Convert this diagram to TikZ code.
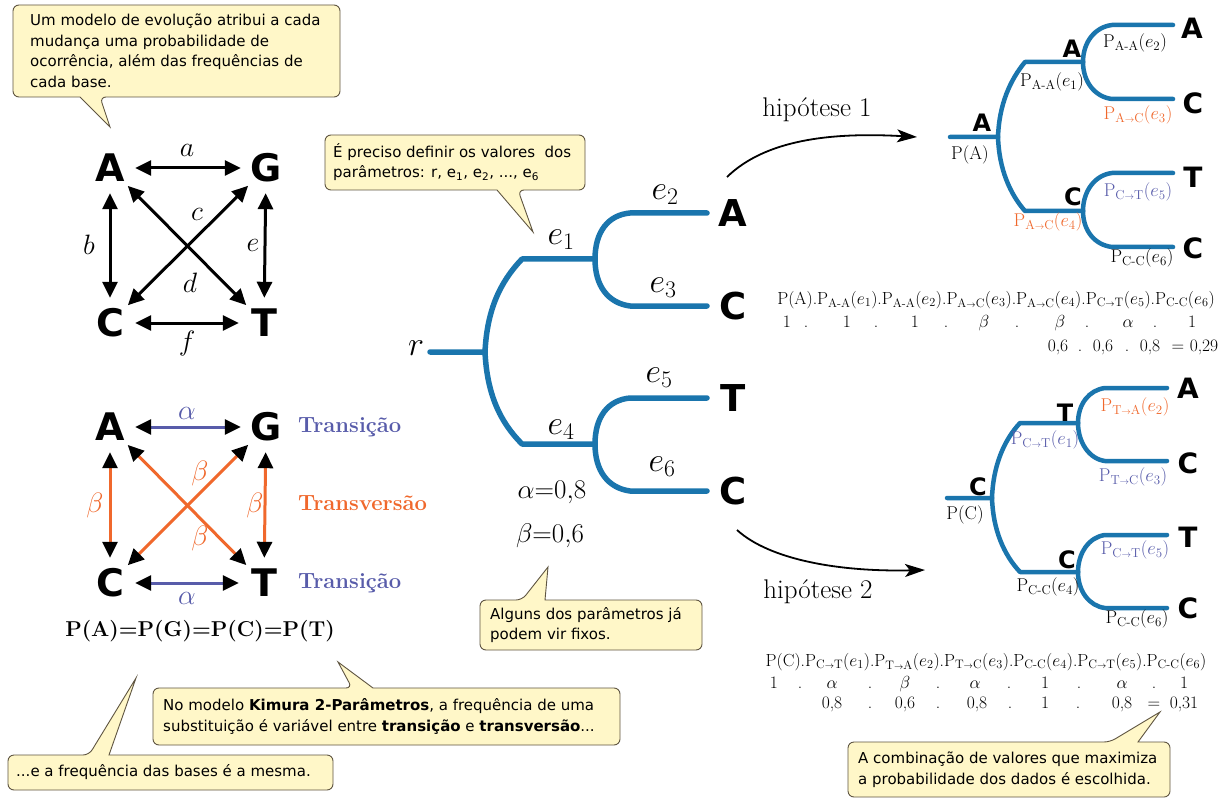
\RequirePackage{fix-cm}
\documentclass[tikz,border=0pt]{standalone}
\usepackage{amsmath}
\usepackage{fontspec}
\usetikzlibrary{arrows.meta}
\newfontfamily\sansf{DejaVu Sans}
\definecolor{treeblue}{RGB}{26,117,173}
\definecolor{orng}{RGB}{240,104,44}
\definecolor{purp}{RGB}{88,92,170}
\definecolor{bubfill}{RGB}{255,247,200}
\definecolor{bubline}{RGB}{95,85,65}
\newcommand{\PPd}[3]{\mathrm{P}_{\mathrm{#1}\text{-}\mathrm{#2}}(e_{#3})}
\newcommand{\PPa}[3]{\mathrm{P}_{\mathrm{#1}{\scriptscriptstyle\rightarrow}\mathrm{#2}}(e_{#3})}
\begin{document}
\begin{tikzpicture}[x=1pt,y=-1pt,
  bub/.style={draw=bubline, fill=bubfill, line width=0.9pt},
  btxt/.style={font=\sansf\fontsize{15}{20.5}\selectfont, align=left, anchor=west, inner sep=0pt},
  gbase/.style={font=\sansf\bfseries\fontsize{38}{40}\selectfont, circle, minimum size=50pt, inner sep=0pt},
  garr/.style={line width=3pt, arrows={Triangle[length=16pt,width=15pt,color=black]-Triangle[length=16pt,width=15pt,color=black]}},
  glab/.style={font=\fontsize{28}{30}\selectfont, inner sep=0pt},
  tree/.style={draw=treeblue, line width=5.5pt, line cap=round, line join=round},
  stree/.style={tree, line width=4.5pt},
  leafM/.style={font=\sansf\bfseries\fontsize{37}{40}\selectfont, inner sep=0pt},
  leafS/.style={font=\sansf\bfseries\fontsize{28}{30}\selectfont, inner sep=0pt},
  intS/.style={font=\sansf\bfseries\fontsize{24}{26}\selectfont, inner sep=0pt},
  plab/.style={font=\fontsize{18.5}{21}\selectfont, inner sep=0pt},
  fml/.style={font=\fontsize{17.5}{21}\selectfont, inner sep=0pt},
  tok/.style={fml, anchor=base},
  elab/.style={font=\fontsize{34}{38}\selectfont, inner sep=0pt},
  hyp/.style={font=\fontsize{27}{30}\selectfont, inner sep=0pt},
  trn/.style={font=\bfseries\fontsize{22}{24}\selectfont, anchor=west, inner sep=0pt},
  harr/.style={line width=1.8pt, -{Stealth[length=20pt,width=13pt,inset=5pt]}}
]
\useasboundingbox (0,0) rectangle (1222,799);
\fill[white] (0,0) rectangle (1222,799);

% ---------- top-left callout
\draw[bub] [rounded corners=6pt] (13,5) -- (340,5) -- (340,97) -- (100,97) [sharp corners] -- (110,127) -- (80,97) [rounded corners=6pt] -- (13,97) -- cycle;
\node[btxt] (t1) at (30,51) {Um modelo de evolução atribui a cada\\mudança uma probabilidade de\\ocorrência, além das frequências de\\cada base.};

% ---------- graph 1
\node[gbase] (A1) at (110,168) {A};
\node[gbase] (G1) at (266,168) {G};
\node[gbase] (C1) at (110,323) {C};
\node[gbase] (T1) at (264,323) {T};
\draw[garr] (A1) -- (G1);
\draw[garr] (A1) -- (C1);
\draw[garr] (G1) -- (T1);
\draw[garr] (C1) -- (T1);
\draw[garr] (A1) -- (T1);
\draw[garr] (G1) -- (C1);
\node[glab] (la) at (187,150) {$a$};
\node[glab] (lb) at (89,245) {$b$};
\node[glab] (lc) at (197,214) {$c$};
\node[glab] (ld) at (190,283) {$d$};
\node[glab] (le) at (253,245) {$e$};
\node[glab] (lf) at (187,343) {$f$};

% ---------- graph 2
\node[gbase] (A2) at (110,427) {A};
\node[gbase] (G2) at (266,427) {G};
\node[gbase] (C2) at (110,583) {C};
\node[gbase] (T2) at (264,583) {T};
\draw[garr, purp] (A2) -- (G2);
\draw[garr, purp] (C2) -- (T2);
\draw[garr, orng] (A2) -- (C2);
\draw[garr, orng] (G2) -- (T2);
\draw[garr, orng] (A2) -- (T2);
\draw[garr, orng] (G2) -- (C2);
\node[glab, purp] (al1) at (187,413) {$\alpha$};
\node[glab, purp] (al2) at (187,598) {$\alpha$};
\node[glab, orng] (be1) at (95,505) {$\beta$};
\node[glab, orng] (be2) at (255,505) {$\beta$};
\node[glab, orng] (be3) at (200,473) {$\beta$};
\node[glab, orng] (be4) at (200,538) {$\beta$};
\node[trn, purp] (tr1) at (298,427) {Transição};
\node[trn, orng] (tv1) at (298,503) {Transversão};
\node[trn, purp] (tr2) at (298,583) {Transição};
\node[font=\bfseries\fontsize{21.5}{24}\selectfont, inner sep=0pt] (eq) at (200,631) {P(A)=P(G)=P(C)=P(T)};

% ---------- middle callout
\draw[bub] [rounded corners=6pt] (325,135) -- (585,135) -- (585,190) -- (518,190) [sharp corners] -- (533,232) -- (497,190) [rounded corners=6pt] -- (325,190) -- cycle;
\node[btxt] (t2) at (333,162) {É preciso definir os valores~~dos\\parâmetros: r, e\textsubscript{1}, e\textsubscript{2}, ..., e\textsubscript{6}};

% ---------- middle tree
\coordinate (r0) at (430,352);
\coordinate (rj) at (485,352);
\coordinate (u1) at (522,259);
\coordinate (n1) at (595,259);
\coordinate (l1) at (522,444);
\coordinate (n2) at (595,444);
\draw[tree] (r0) -- (rj) .. controls (487,310) and (500,282) .. (u1) -- (n1);
\draw[tree] (rj) .. controls (487,394) and (500,422) .. (l1) -- (n2);
\draw[tree] (n1) .. controls (595,232) and (608,215) .. (630,213) -- (707,213);
\draw[tree] (n1) .. controls (595,286) and (608,303) .. (630,306) -- (707,306);
\draw[tree] (n2) .. controls (595,417) and (608,400) .. (630,398) -- (707,398);
\draw[tree] (n2) .. controls (595,471) and (608,488) .. (630,491) -- (707,491);
\node[leafM] (mA) at (733,213) {A};
\node[leafM] (mC1) at (733,306) {C};
\node[leafM] (mT) at (733,398) {T};
\node[leafM] (mC2) at (733,491) {C};
\node[elab] (mr) at (416,348) {$r$};
\node[elab] (me1) at (561,240) {$e_1$};
\node[elab] (me2) at (665,195) {$e_2$};
\node[elab] (me3) at (663,288) {$e_3$};
\node[elab] (me4) at (561,430) {$e_4$};
\node[elab] (me5) at (659,378) {$e_5$};
\node[elab] (me6) at (662,467) {$e_6$};
\node[font=\fontsize{27}{30}\selectfont, inner sep=0pt] (va) at (552,492) {$\alpha{=}0{,}8$};
\node[font=\fontsize{27}{30}\selectfont, inner sep=0pt] (vb) at (550,536) {$\beta{=}0{,}6$};

% ---------- "Alguns" callout
\draw[bub] [rounded corners=6pt] (480,650) -- (480,600) -- (522,600) [sharp corners] -- (548,567) -- (545,600) [rounded corners=6pt] -- (702,600) -- (702,650) -- cycle;
\node[btxt] (t3) at (490,625) {Alguns dos parâmetros já\\podem vir fixos.};

% ---------- bottom callouts
\draw[bub] [rounded corners=6pt] (153,745) -- (153,688) -- (352,688) [sharp corners] -- (338,662) -- (373,688) [rounded corners=6pt] -- (620,688) -- (620,745) -- cycle;
\node[btxt] (t4) at (163,716.5) {No modelo \textbf{Kimura 2-Parâmetros}, a frequência de uma\\substituição é variável entre \textbf{transição} e \textbf{transversão}...};
\draw[bub] [rounded corners=6pt] (8,790) -- (8,755) -- (89,755) [sharp corners] -- (136,678) -- (109,755) [rounded corners=6pt] -- (333,755) -- (333,790) -- cycle;
\node[btxt] (t5) at (16,772.5) {...e a frequência das bases é a mesma.};

% ---------- hypothesis arrows
\coordinate (h1s) at (727,177);
\coordinate (h1e) at (917,137);
\draw[harr] (h1s) .. controls (765,140) and (830,132) .. (h1e);
\node[hyp] (hy1) at (817,110) {hipótese 1};
\coordinate (h2s) at (737,530);
\coordinate (h2e) at (925,570);
\draw[harr] (h2s) .. controls (770,560) and (840,572) .. (h2e);
\node[hyp] (hy2) at (818,592) {hipótese 2};

% ---------- top-right tree
\draw[stree] (950,137) -- (998,137) .. controls (999,105) and (1010,80) .. (1025,62) -- (1083,62);
\draw[stree] (998,137) .. controls (999,169) and (1010,194) .. (1025,211) -- (1083,211);
\draw[stree] (1083,62) .. controls (1083,42) and (1095,27) .. (1112,25) -- (1173,25);
\draw[stree] (1083,62) .. controls (1083,82) and (1095,97) .. (1112,99) -- (1173,99);
\draw[stree] (1083,211) .. controls (1083,191) and (1095,175) .. (1112,173) -- (1173,173);
\draw[stree] (1083,211) .. controls (1083,231) and (1095,245) .. (1112,247) -- (1173,247);
\node[intS] (pA0) at (982,123) {A};
\node[plab] (pPA) at (970,155) {P(A)};
\node[intS] (pA1) at (1072,49) {A};
\node[plab] (pl1) at (1052,82) {$\PPd AA1$};
\node[leafS] (pA2) at (1192,28) {A};
\node[plab] (pl2) at (1135,43) {$\PPd AA2$};
\node[leafS] (pC3) at (1193,103) {C};
\node[plab, orng] (pl3) at (1138,115) {$\PPa AC3$};
\node[leafS] (pT5) at (1193,177) {T};
\node[plab, purp] (pl5) at (1138,192) {$\PPa CT5$};
\node[intS] (pC4) at (1073,197) {C};
\node[plab, orng] (pl4) at (1048,222) {$\PPa AC4$};
\node[leafS] (pC6) at (1193,248) {C};
\node[plab] (pl6) at (1142,258) {$\PPd CC6$};

% formula 1
\node[fml] (f1) at (996,300) {P(A).$\PPd AA1$.$\PPd AA2$.$\PPa AC3$.$\PPa AC4$.$\PPa CT5$.$\PPd CC6$};
\foreach \x/\t [count=\i] in {787/1,806/.,847/1,876/.,915/1,946/.,984/$\beta$,1017/.,1060/$\beta$,1087/.,1128/$\alpha$,1155/.,1192/1}
  \node[tok] (fa\i) at (\x,327) {\t};
\foreach \x/\t [count=\i] in {1058/{0,6},1080/.,1103/{0,6},1127/.,1150/{0,8},1178/=,1204/{0,29}}
  \node[tok] (fb\i) at (\x,351) {\t};

% ---------- bottom-right tree
\draw[stree] (947,498) -- (992,498) .. controls (993,466) and (1004,440) .. (1020,423) -- (1078,423);
\draw[stree] (992,498) .. controls (993,530) and (1004,555) .. (1020,572) -- (1078,572);
\draw[stree] (1078,423) .. controls (1078,404) and (1089,390) .. (1105,388) -- (1167,388);
\draw[stree] (1078,423) .. controls (1078,442) and (1089,459) .. (1105,461) -- (1167,461);
\draw[stree] (1078,572) .. controls (1078,553) and (1089,537) .. (1105,535) -- (1167,535);
\draw[stree] (1078,572) .. controls (1078,591) and (1089,606) .. (1105,608) -- (1167,608);
\node[intS] (qC0) at (978,487) {C};
\node[plab] (qPC) at (965,515) {P(C)};
\node[intS] (qT1) at (1065,413) {T};
\node[plab, purp] (ql1) at (1045,440) {$\PPa CT1$};
\node[leafS] (qA2) at (1188,388) {A};
\node[plab, orng] (ql2) at (1135,407) {$\PPa TA2$};
\node[leafS] (qC3) at (1188,463) {C};
\node[plab, purp] (ql3) at (1133,477) {$\PPa TC3$};
\node[leafS] (qT5) at (1188,537) {T};
\node[plab, purp] (ql5) at (1135,550) {$\PPa CT5$};
\node[intS] (qC4) at (1067,560) {C};
\node[plab] (ql4) at (1048,587) {$\PPd CC4$};
\node[leafS] (qC6) at (1188,608) {C};
\node[plab] (ql6) at (1137,619) {$\PPd CC6$};

% formula 2
\node[fml] (f2) at (986,662) {P(C).$\PPa CT1$.$\PPa TA2$.$\PPa TC3$.$\PPd CC4$.$\PPa CT5$.$\PPd CC6$};
\foreach \x/\t [count=\i] in {774/1,800/.,832/$\alpha$,870/.,905/$\beta$,938/.,975/$\alpha$,1009/.,1045/1,1079/.,1122/$\alpha$,1154/.,1184/1}
  \node[tok] (ga\i) at (\x,688) {\t};
\foreach \x/\t [count=\i] in {832/{0,8},870/.,905/{0,6},938/.,977/{0,8},1010/.,1045/1,1078/.,1122/{0,8},1154/=,1184/{0,31}}
  \node[tok] (gb\i) at (\x,708) {\t};

% ---------- bottom-right callout
\draw[bub] [rounded corners=6pt] (848,797) -- (848,742) -- (1110,742) [sharp corners] -- (1160,712) -- (1138,742) [rounded corners=6pt] -- (1170,742) -- (1170,797) -- cycle;
\node[btxt] (t6) at (858,769.5) {A combinação de valores que maximiza\\a probabilidade dos dados é escolhida.};
\end{tikzpicture}
\end{document}
